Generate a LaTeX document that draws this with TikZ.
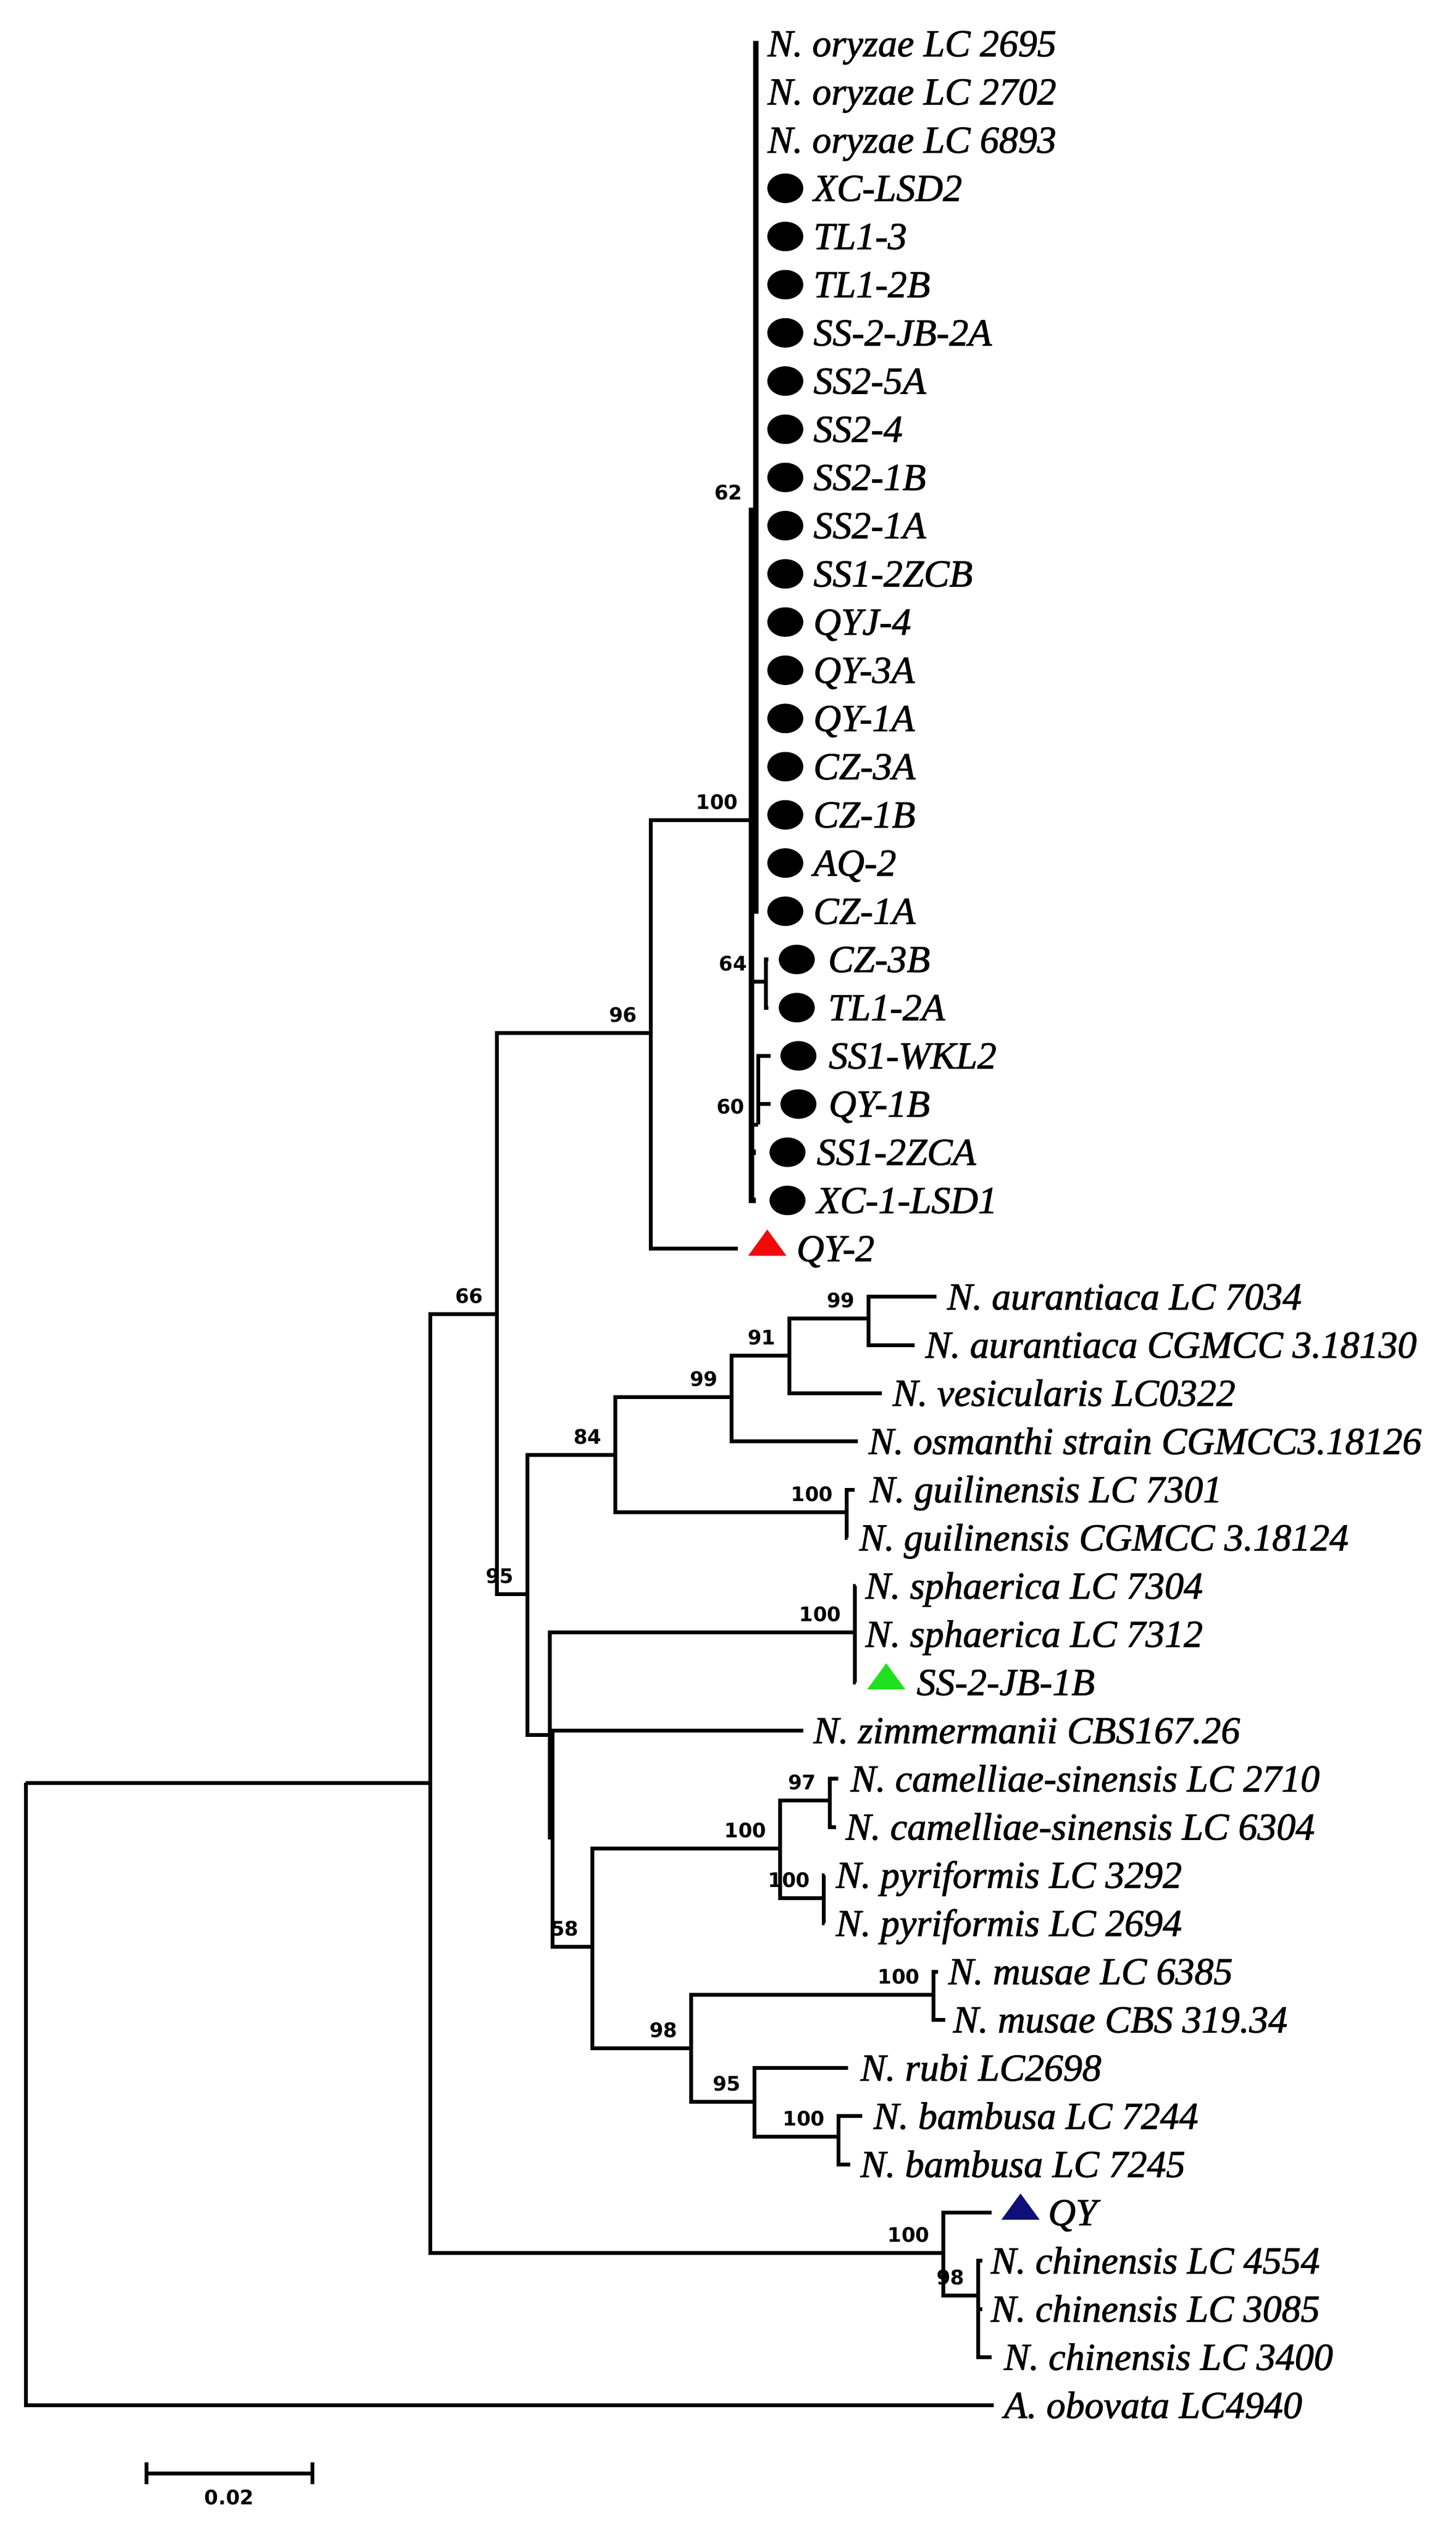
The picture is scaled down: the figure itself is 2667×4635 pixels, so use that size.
\documentclass[tikz,border=0pt]{standalone}
\usepackage{fontspec}
\setmainfont{Liberation Serif}
\newfontfamily\taxfont{Liberation Serif Italic}[FakeBold=1.5]
\newfontfamily\bsfont{DejaVu Sans}
\usetikzlibrary{shapes.geometric}
\definecolor{trired}{RGB}{240,10,10}
\definecolor{trigreen}{RGB}{30,225,30}
\definecolor{trinavy}{RGB}{15,15,120}
\begin{document}
\begin{tikzpicture}[x=0.3pt,y=-0.3pt,
  br/.style={line width=2.1pt},
  mainbr/.style={line width=3pt},
  taxon/.style={anchor=west, inner sep=0pt, font=\taxfont\fontsize{21}{21}\selectfont, text height=13.9pt, text depth=0pt},
  boot/.style={anchor=east, inner sep=0pt, font=\bsfont\bfseries\fontsize{11}{11}\selectfont, text height=8pt, text depth=0pt},
  dot/.style={ellipse, fill=black, inner sep=0pt, minimum width=19.8pt, minimum height=16.2pt},
]
\fill[white] (0,0) rectangle (2667,4635);
\useasboundingbox (0,0) rectangle (2667,4635);

% internal nodes
\coordinate (R) at (47,3266);
\coordinate (A) at (788,3266);
\coordinate (B) at (910,2407);
\coordinate (C) at (1728,4127);
\coordinate (D) at (1792,4205);
\coordinate (E) at (1192,1892);
\coordinate (F) at (966,2920);
\coordinate (G) at (1377,1502);
\coordinate (H) at (1385,935);
\coordinate (I) at (1403,1798);
\coordinate (J) at (1389,2060);
\coordinate (K) at (1127,2665);
\coordinate (M) at (1340,2559);
\coordinate (O) at (1446,2483);
\coordinate (P) at (1591,2415);
\coordinate (N) at (1551,2770);
\coordinate (L) at (1007,3178);
\coordinate (Q) at (1566,2990);
\coordinate (S) at (1012,3366);
\coordinate (T) at (1085,3566);
\coordinate (U) at (1429,3386);
\coordinate (W) at (1520,3298);
\coordinate (X) at (1509,3477);
\coordinate (V) at (1266,3752);
\coordinate (Yn) at (1710,3654);
\coordinate (Z) at (1382,3850);
\coordinate (AA) at (1536,3914);

% leaf tips
\coordinate (l1) at (1390,80);
\coordinate (l2) at (1390,168.3);
\coordinate (l3) at (1390,256.6);
\coordinate (l4) at (1390,344.9);
\coordinate (l5) at (1390,433.2);
\coordinate (l6) at (1390,521.5);
\coordinate (l7) at (1390,609.8);
\coordinate (l8) at (1390,698.1);
\coordinate (l9) at (1390,786.4);
\coordinate (l10) at (1390,874.7);
\coordinate (l11) at (1390,963);
\coordinate (l12) at (1390,1051.3);
\coordinate (l13) at (1390,1139.6);
\coordinate (l14) at (1390,1227.9);
\coordinate (l15) at (1390,1316.2);
\coordinate (l16) at (1390,1404.5);
\coordinate (l17) at (1390,1492.8);
\coordinate (l18) at (1390,1581.1);
\coordinate (l19) at (1390,1669.4);
\coordinate (l20) at (1408,1757.7);
\coordinate (l21) at (1408,1846);
\coordinate (l22) at (1412,1934.3);
\coordinate (l23) at (1412,2022.6);
\coordinate (l24) at (1385,2110.9);
\coordinate (l25) at (1385,2199.2);
\coordinate (l26) at (1352,2287.5);
\coordinate (l27) at (1716,2375.8);
\coordinate (l28) at (1676,2464.1);
\coordinate (l29) at (1616,2552.4);
\coordinate (l30) at (1572,2640.7);
\coordinate (l31) at (1566,2729);
\coordinate (l32) at (1553,2817.3);
\coordinate (l33) at (1568,2905.6);
\coordinate (l34) at (1568,2993.9);
\coordinate (l35) at (1568,3082.2);
\coordinate (l36) at (1472,3170.5);
\coordinate (l37) at (1536,3258.8);
\coordinate (l38) at (1532,3347.1);
\coordinate (l39) at (1511,3435.4);
\coordinate (l40) at (1511,3523.7);
\coordinate (l41) at (1719,3612);
\coordinate (l42) at (1732,3700.3);
\coordinate (l43) at (1554,3788.6);
\coordinate (l44) at (1580,3876.9);
\coordinate (l45) at (1558,3965.2);
\coordinate (l46) at (1817,4053.5);
\coordinate (l47) at (1800,4141.8);
\coordinate (l48) at (1800,4230.1);
\coordinate (l49) at (1817,4318.4);
\coordinate (l50) at (1821,4406.7);

% branches
\draw[br] (R) |- (A);
\draw[br] (R) |- (l50);
\draw[br] (A) |- (B);
\draw[br] (A) |- (C);
\draw[br] (C) |- (l46);
\draw[br] (C) |- (D);
\foreach \k in {47,48,49} \draw[br] (D) |- (l\k);
\draw[br] (B) |- (E);
\draw[br] (B) |- (F);
\draw[br] (E) |- (G);
\draw[br] (E) |- (l26);
\draw[mainbr] (G) |- (H);
\foreach \k in {1,...,19} \draw[mainbr] (H) |- (l\k);
\draw[br] (G) |- (I);
\draw[br] (G) |- (J);
\draw[mainbr] (G) |- (l24);
\draw[mainbr] (G) |- (l25);
\draw[br] (I) |- (l20);
\draw[br] (I) |- (l21);
\draw[br] (J) |- (l22);
\draw[br] (J) |- (l23);
\draw[br] (F) |- (K);
\draw[br] (F) |- (L);
\draw[br] (K) |- (M);
\draw[br] (K) |- (N);
\draw[br] (M) |- (O);
\draw[br] (M) |- (l30);
\draw[br] (O) |- (P);
\draw[br] (O) |- (l29);
\draw[br] (P) |- (l27);
\draw[br] (P) |- (l28);
\draw[br] (N) |- (l31);
\draw[br] (N) |- (l32);
\draw[br] (L) |- (Q);
\draw[br] (L) |- (S);
\foreach \k in {33,34,35} \draw[br] (Q) |- (l\k);
\draw[br] (S) |- (l36);
\draw[br] (S) |- (T);
\draw[br] (T) |- (U);
\draw[br] (T) |- (V);
\draw[br] (U) |- (W);
\draw[br] (U) |- (X);
\draw[br] (W) |- (l37);
\draw[br] (W) |- (l38);
\draw[br] (X) |- (l39);
\draw[br] (X) |- (l40);
\draw[br] (V) |- (Yn);
\draw[br] (V) |- (Z);
\draw[br] (Yn) |- (l41);
\draw[br] (Yn) |- (l42);
\draw[br] (Z) |- (l43);
\draw[br] (Z) |- (AA);
\draw[br] (AA) |- (l44);
\draw[br] (AA) |- (l45);

% bootstrap values
\node[boot] (bH) at ([xshift=-7.2pt,yshift=9.9pt]H) {62};
\node[boot] (bG) at ([xshift=-7.2pt,yshift=9.9pt]G) {100};
\node[boot] (bI) at ([xshift=-10pt,yshift=9.9pt]I) {64};
\node[boot] (bJ) at ([xshift=-7.2pt,yshift=9.9pt]J) {60};
\node[boot] (bE) at ([xshift=-7.2pt,yshift=9.9pt]E) {96};
\node[boot] (bB) at ([xshift=-7.2pt,yshift=9.9pt]B) {66};
\node[boot] (bP) at ([xshift=-7.2pt,yshift=9.9pt]P) {99};
\node[boot] (bO) at ([xshift=-7.2pt,yshift=9.9pt]O) {91};
\node[boot] (bM) at ([xshift=-7.2pt,yshift=9.9pt]M) {99};
\node[boot] (bK) at ([xshift=-7.2pt,yshift=9.9pt]K) {84};
\node[boot] (bN) at ([xshift=-7.2pt,yshift=9.9pt]N) {100};
\node[boot] (bF) at ([xshift=-7.2pt,yshift=9.9pt]F) {95};
\node[boot] (bQ) at ([xshift=-7.2pt,yshift=9.9pt]Q) {100};
\node[boot] (bW) at ([xshift=-7.2pt,yshift=9.9pt]W) {97};
\node[boot] (bU) at ([xshift=-7.2pt,yshift=9.9pt]U) {100};
\node[boot] (bX) at ([xshift=-7.2pt,yshift=9.9pt]X) {100};
\node[boot] (bT) at ([xshift=-7.2pt,yshift=9.9pt]T) {58};
\node[boot] (bYn) at ([xshift=-7.2pt,yshift=9.9pt]Yn) {100};
\node[boot] (bV) at ([xshift=-7.2pt,yshift=9.9pt]V) {98};
\node[boot] (bZ) at ([xshift=-7.2pt,yshift=9.9pt]Z) {95};
\node[boot] (bAA) at ([xshift=-7.2pt,yshift=9.9pt]AA) {100};
\node[boot] (bC) at ([xshift=-7.2pt,yshift=9.9pt]C) {100};
\node[boot] (bD) at ([xshift=-7.2pt,yshift=9.9pt]D) {98};

% markers
\foreach \k in {4,...,19} \node[dot] (c\k) at (1439,{80+(\k-1)*88.3}) {};
\node[dot] (c20) at (1460,1757.7) {};
\node[dot] (c21) at (1460,1846) {};
\node[dot] (c22) at (1463,1934.3) {};
\node[dot] (c23) at (1463,2022.6) {};
\node[dot] (c24) at (1443,2110.9) {};
\node[dot] (c25) at (1443,2199.2) {};
\fill[trired] (1371,2300.5) -- (1441,2300.5) -- (1406,2252.5) -- cycle;
\fill[trigreen] (1589,3095.2) -- (1659,3095.2) -- (1624,3047.2) -- cycle;
\fill[trinavy] (1835,4066.5) -- (1905,4066.5) -- (1870,4018.5) -- cycle;

% taxon labels
\node[taxon] (t1) at (1406,80) {N. oryzae LC 2695};
\node[taxon] (t2) at (1406,168.3) {N. oryzae LC 2702};
\node[taxon] (t3) at (1406,256.6) {N. oryzae LC 6893};
\node[taxon] (t4) at (1490,344.9) {XC-LSD2};
\node[taxon] (t5) at (1490,433.2) {TL1-3};
\node[taxon] (t6) at (1490,521.5) {TL1-2B};
\node[taxon] (t7) at (1490,609.8) {SS-2-JB-2A};
\node[taxon] (t8) at (1490,698.1) {SS2-5A};
\node[taxon] (t9) at (1490,786.4) {SS2-4};
\node[taxon] (t10) at (1490,874.7) {SS2-1B};
\node[taxon] (t11) at (1490,963) {SS2-1A};
\node[taxon] (t12) at (1490,1051.3) {SS1-2ZCB};
\node[taxon] (t13) at (1490,1139.6) {QYJ-4};
\node[taxon] (t14) at (1490,1227.9) {QY-3A};
\node[taxon] (t15) at (1490,1316.2) {QY-1A};
\node[taxon] (t16) at (1490,1404.5) {CZ-3A};
\node[taxon] (t17) at (1490,1492.8) {CZ-1B};
\node[taxon] (t18) at (1490,1581.1) {AQ-2};
\node[taxon] (t19) at (1490,1669.4) {CZ-1A};
\node[taxon] (t20) at (1517,1757.7) {CZ-3B};
\node[taxon] (t21) at (1517,1846) {TL1-2A};
\node[taxon] (t22) at (1518,1934.3) {SS1-WKL2};
\node[taxon] (t23) at (1518,2022.6) {QY-1B};
\node[taxon] (t24) at (1496,2110.9) {SS1-2ZCA};
\node[taxon] (t25) at (1496,2199.2) {XC-1-LSD1};
\node[taxon] (t26) at (1459,2287.5) {QY-2};
\node[taxon] (t27) at (1735,2375.8) {N. aurantiaca LC 7034};
\node[taxon] (t28) at (1695,2464.1) {N. aurantiaca CGMCC 3.18130};
\node[taxon] (t29) at (1635,2552.4) {N. vesicularis LC0322};
\node[taxon] (t30) at (1591,2640.7) {N. osmanthi strain CGMCC3.18126};
\node[taxon] (t31) at (1593,2729) {N. guilinensis LC 7301};
\node[taxon] (t32) at (1574,2817.3) {N. guilinensis CGMCC 3.18124};
\node[taxon] (t33) at (1585,2905.6) {N. sphaerica LC 7304};
\node[taxon] (t34) at (1585,2993.9) {N. sphaerica LC 7312};
\node[taxon] (t35) at (1679,3082.2) {SS-2-JB-1B};
\node[taxon] (t36) at (1490,3170.5) {N. zimmermanii CBS167.26};
\node[taxon] (t37) at (1558,3258.8) {N. camelliae-sinensis LC 2710};
\node[taxon] (t38) at (1549,3347.1) {N. camelliae-sinensis LC 6304};
\node[taxon] (t39) at (1531,3435.4) {N. pyriformis LC 3292};
\node[taxon] (t40) at (1531,3523.7) {N. pyriformis LC 2694};
\node[taxon] (t41) at (1737,3612) {N. musae LC 6385};
\node[taxon] (t42) at (1746,3700.3) {N. musae CBS 319.34};
\node[taxon] (t43) at (1576,3788.6) {N. rubi LC2698};
\node[taxon] (t44) at (1600,3876.9) {N. bambusa LC 7244};
\node[taxon] (t45) at (1576,3965.2) {N. bambusa LC 7245};
\node[taxon] (t46) at (1920,4053.5) {QY};
\node[taxon] (t47) at (1815,4141.8) {N. chinensis LC 4554};
\node[taxon] (t48) at (1815,4230.1) {N. chinensis LC 3085};
\node[taxon] (t49) at (1839,4318.4) {N. chinensis LC 3400};
\node[taxon] (t50) at (1839,4406.7) {A. obovata LC4940};

% scale bar
\coordinate (sbL) at (268,4531);
\coordinate (sbR) at (572,4531);
\draw[br] (sbL) -- (sbR);
\draw[br] ([yshift=6pt]sbL) -- ([yshift=-6pt]sbL);
\draw[br] ([yshift=6pt]sbR) -- ([yshift=-6pt]sbR);
\node[boot, anchor=center] (sbT) at (420,4575) {0.02};
\end{tikzpicture}
\end{document}
